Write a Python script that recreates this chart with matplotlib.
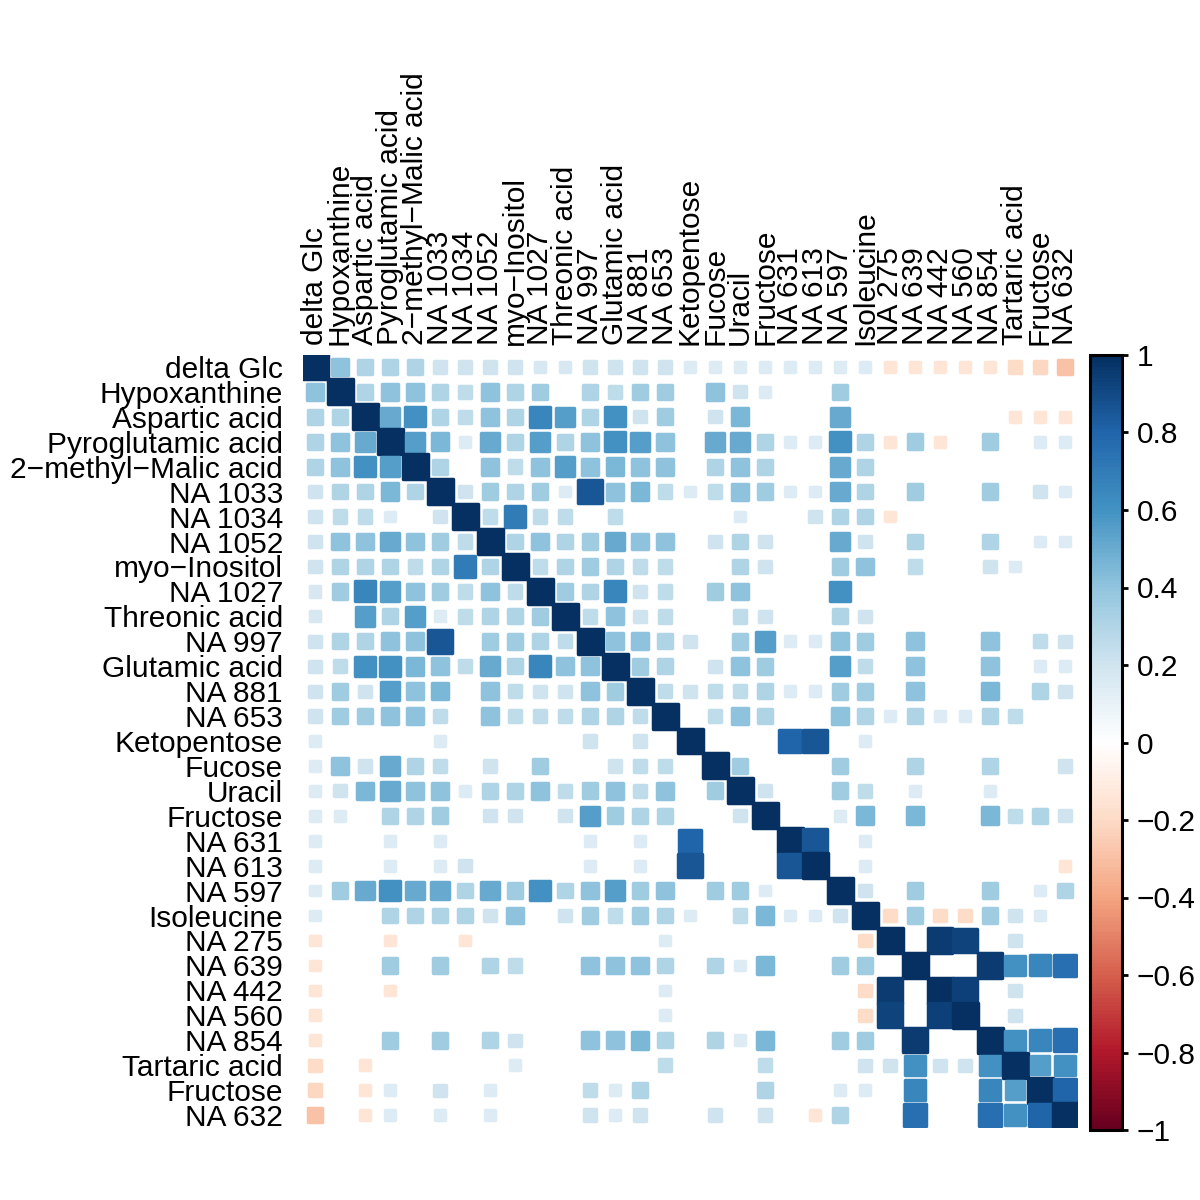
import numpy as np
import matplotlib
matplotlib.use("Agg")
import matplotlib.pyplot as plt
from matplotlib.patches import Rectangle
from matplotlib.colors import LinearSegmentedColormap, Normalize
from matplotlib.cm import ScalarMappable

plt.rcParams['font.family'] = ['Liberation Sans', 'DejaVu Sans']

labels = ["delta Glc", "Hypoxanthine", "Aspartic acid", "Pyroglutamic acid",
          "2\u2212methyl\u2212Malic acid", "NA 1033", "NA 1034", "NA 1052",
          "myo\u2212Inositol", "NA 1027", "Threonic acid", "NA 997",
          "Glutamic acid", "NA 881", "NA 653", "Ketopentose", "Fucose",
          "Uracil", "Fructose", "NA 631", "NA 613", "NA 597", "Isoleucine",
          "NA 275", "NA 639", "NA 442", "NA 560", "NA 854", "Tartaric acid",
          "Fructose", "NA 632"]

# lower triangle of the correlation matrix (0 = not shown)
lower = [
    [],
    [0.4],
    [0.3, 0.3],
    [0.3, 0.4, 0.5],
    [0.3, 0.4, 0.6, 0.55],
    [0.2, 0.3, 0.3, 0.45, 0.3],
    [0.2, 0.25, 0.25, 0.15, 0, 0.2],
    [0.2, 0.4, 0.4, 0.5, 0.4, 0.35, 0.25],
    [0.2, 0.3, 0.3, 0.3, 0.25, 0.3, 0.7, 0.3],
    [0.17, 0.35, 0.65, 0.55, 0.4, 0.35, 0.25, 0.4, 0.25],
    [0.17, 0, 0.55, 0.3, 0.55, 0.15, 0.25, 0.3, 0.3, 0.35],
    [0.2, 0.3, 0.3, 0.4, 0.4, 0.85, 0, 0.35, 0.35, 0.3, 0.25],
    [0.2, 0.25, 0.6, 0.6, 0.45, 0.4, 0.25, 0.5, 0.3, 0.65, 0.4, 0.4],
    [0.2, 0.35, 0.2, 0.55, 0.4, 0.45, 0, 0.4, 0.25, 0.2, 0.2, 0.4, 0.35],
    [0.2, 0.35, 0.35, 0.4, 0.4, 0.25, 0, 0.4, 0.25, 0.25, 0.25, 0.3, 0.3, 0.25],
    [0.15, 0, 0, 0, 0, 0.15, 0, 0, 0, 0, 0, 0.2, 0, 0.2, 0],
    [0.15, 0.4, 0.2, 0.5, 0.3, 0.25, 0, 0.2, 0, 0.35, 0, 0, 0.2, 0.25, 0.25, 0],
    [0.15, 0.2, 0.45, 0.5, 0.4, 0.4, 0.15, 0.3, 0.3, 0.4, 0.25, 0.35, 0.4, 0.25, 0.4, 0, 0.35],
    [0.15, 0.15, 0, 0.3, 0.3, 0.35, 0, 0.2, 0.2, 0, 0.2, 0.55, 0.35, 0.3, 0.3, 0, 0, 0.2],
    [0.15, 0, 0, 0.15, 0, 0.15, 0, 0, 0, 0, 0, 0.15, 0, 0.15, 0, 0.8, 0, 0, 0],
    [0.15, 0, 0, 0.15, 0, 0.15, 0.2, 0, 0, 0, 0, 0.15, 0, 0.15, 0, 0.85, 0, 0, 0, 0.85],
    [0.15, 0.35, 0.5, 0.6, 0.5, 0.5, 0.3, 0.5, 0.35, 0.6, 0.3, 0.4, 0.55, 0.35, 0.4, 0, 0.35, 0.35, 0.15, 0, 0],
    [0.15, 0, 0, 0.3, 0.3, 0.3, 0.3, 0.2, 0.4, 0, 0.2, 0.35, 0.25, 0.35, 0.3, 0.15, 0, 0.25, 0.45, 0.15, 0.15, 0.2],
    [-0.15, 0, 0, -0.15, 0, 0, -0.15, 0, 0, 0, 0, 0, 0, 0, 0.15, 0, 0, 0, 0, 0, 0, 0, -0.2],
    [-0.15, 0, 0, 0.35, 0, 0.35, 0, 0.3, 0.25, 0, 0, 0.4, 0.4, 0.4, 0.3, 0, 0.3, 0.15, 0.45, 0, 0, 0.35, 0.35, 0],
    [-0.15, 0, 0, -0.15, 0, 0, 0, 0, 0, 0, 0, 0, 0, 0, 0.15, 0, 0, 0, 0, 0, 0, 0, -0.2, 0.95, 0],
    [-0.15, 0, 0, 0, 0, 0, 0, 0, 0, 0, 0, 0, 0, 0, 0.15, 0, 0, 0, 0, 0, 0, 0, -0.2, 0.92, 0, 0.93],
    [-0.15, 0, 0, 0.35, 0, 0.35, 0, 0.3, 0.2, 0, 0, 0.4, 0.4, 0.45, 0.3, 0, 0.3, 0.15, 0.45, 0, 0, 0.35, 0.35, 0, 0.95, 0, 0],
    [-0.2, 0, -0.15, 0, 0, 0, 0, 0, 0.15, 0, 0, 0, 0, 0, 0.25, 0, 0, 0, 0.25, 0, 0, 0, 0.2, 0.2, 0.6, 0.2, 0.2, 0.6],
    [-0.22, 0, -0.15, 0.15, 0, 0.2, 0, 0.15, 0, 0, 0, 0.25, 0.15, 0.3, 0, 0, 0, 0, 0.3, 0, 0, 0.15, 0.15, 0, 0.65, 0, 0, 0.65, 0.55],
    [-0.3, 0, -0.15, 0.15, 0, 0.15, 0, 0.15, 0, 0, 0, 0.2, 0.15, 0.2, 0, 0, 0.2, 0, 0.2, 0, -0.15, 0.3, 0, 0, 0.75, 0, 0, 0.75, 0.6, 0.8],
]

n = len(labels)
corr = np.eye(n)
for i, row in enumerate(lower):
    for j, v in enumerate(row):
        corr[i, j] = v
        corr[j, i] = v

col2 = ["#67001F", "#B2182B", "#D6604D", "#F4A582", "#FDDBC7", "#FFFFFF",
        "#D1E5F0", "#92C5DE", "#4393C3", "#2166AC", "#053061"]
cmap = LinearSegmentedColormap.from_list("rdbu", col2, N=200)
norm = Normalize(-1, 1)

fig = plt.figure(figsize=(12, 12), dpi=100)
ax = fig.add_axes([302.5 / 1200, 1 - 1127.5 / 1200, 775 / 1200, 773 / 1200])
ax.set_xlim(-0.5, n - 0.5)
ax.set_ylim(n - 0.5, -0.5)

for i in range(n):
    for j in range(n):
        v = corr[i, j]
        if v == 0:
            continue
        s = np.sqrt(abs(v))
        c = cmap(norm(v))
        ax.add_patch(Rectangle((j - s / 2, i - s / 2), s, s, facecolor=c,
                               edgecolor=c, linewidth=2.5, joinstyle='round'))

ax.set_xticks(range(n))
ax.set_yticks(range(n))
ax.set_yticklabels(labels, fontsize=21.5)
ax.set_xticklabels(labels, fontsize=21.5, rotation=90)
ax.xaxis.tick_top()
ax.tick_params(axis='both', length=0)
ax.tick_params(axis='y', pad=14)
ax.tick_params(axis='x', pad=7)
for sp in ax.spines.values():
    sp.set_visible(False)

cax = fig.add_axes([1090 / 1200, 1 - 1130 / 1200, 32 / 1200, 775 / 1200])
cb = fig.colorbar(ScalarMappable(norm=norm, cmap=cmap), cax=cax)
ticks = np.round(np.linspace(-1, 1, 11), 1)
cb.set_ticks(ticks)
cb.set_ticklabels([("%g" % t).replace("-", "\u2212") if t != 0 else "0" for t in ticks])
cb.outline.set_linewidth(2.2)
cax.tick_params(labelsize=21.5, length=4.5, width=2, direction='out', pad=6)

fig.savefig("out.png", dpi=100)
